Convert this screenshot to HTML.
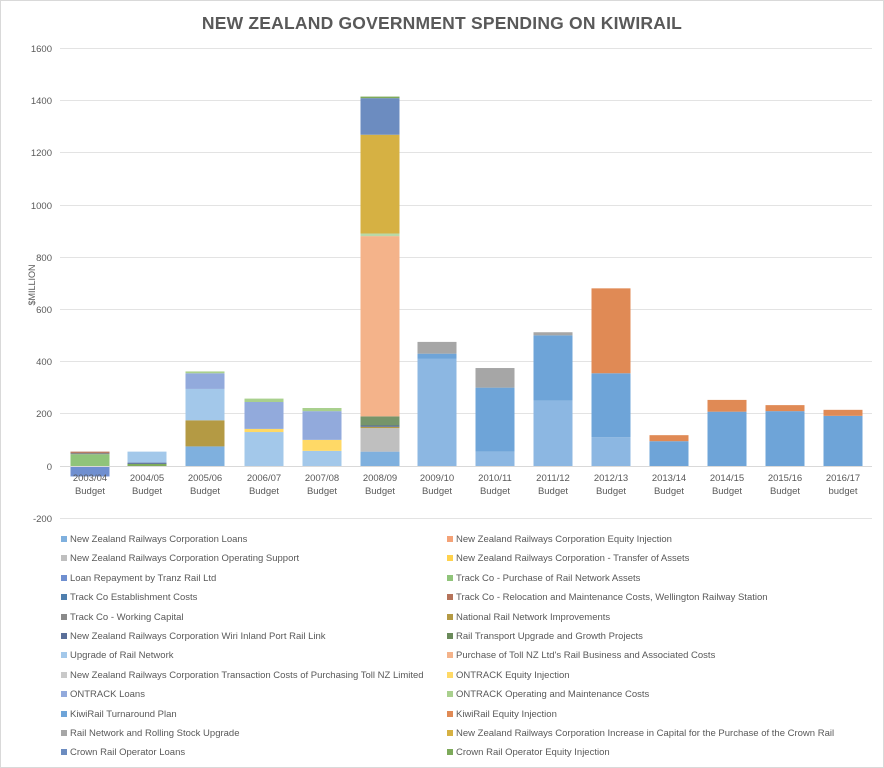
<!DOCTYPE html>
<html><head><meta charset="utf-8"><style>
body{margin:0;background:#fff;}
svg{display:block;font-family:"Liberation Sans",sans-serif;}
</style></head><body>
<svg width="884" height="768" viewBox="0 0 884 768">
<rect x="0.5" y="0.5" width="883" height="767" fill="#fff" stroke="#d9d9d9"/>
<text x="442" y="29" text-anchor="middle" font-size="17.5" font-weight="bold" fill="#595959" letter-spacing="0.2">NEW ZEALAND GOVERNMENT SPENDING ON KIWIRAIL</text>
<g stroke="#e3e3e3" stroke-width="1">
<line x1="60" x2="872" y1="48.5" y2="48.5"/><line x1="60" x2="872" y1="100.5" y2="100.5"/>
<line x1="60" x2="872" y1="152.5" y2="152.5"/><line x1="60" x2="872" y1="205.5" y2="205.5"/>
<line x1="60" x2="872" y1="257.5" y2="257.5"/><line x1="60" x2="872" y1="309.5" y2="309.5"/>
<line x1="60" x2="872" y1="361.5" y2="361.5"/><line x1="60" x2="872" y1="413.5" y2="413.5"/>
<line x1="60" x2="872" y1="518.5" y2="518.5"/>
</g>
<g font-size="9.5" fill="#595959" text-anchor="end">
<text x="52" y="52">1600</text><text x="52" y="104">1400</text><text x="52" y="156">1200</text>
<text x="52" y="209">1000</text><text x="52" y="261">800</text><text x="52" y="313">600</text>
<text x="52" y="365">400</text><text x="52" y="417">200</text><text x="52" y="470">0</text>
<text x="52" y="522">-200</text>
</g>
<text transform="translate(35,285) rotate(-90)" font-size="9" fill="#595959" text-anchor="middle">$MILLION</text>
<g transform="translate(0,466) scale(1,-0.26125)">
<rect x="70.5" y="-40" width="39" height="40" fill="#6f8fd0"/>
<rect x="70.5" y="0" width="39" height="45" fill="#90c47a"/>
<rect x="70.5" y="45" width="39" height="5" fill="#8a8a8a"/>
<rect x="70.5" y="50" width="39" height="5" fill="#b5735a"/>
<rect x="127.5" y="0" width="39" height="8" fill="#7daa5a"/>
<rect x="127.5" y="8" width="39" height="5" fill="#5a6f99"/>
<rect x="127.5" y="13" width="39" height="42" fill="#a3c8ea"/>
<rect x="185.5" y="0" width="39" height="75" fill="#7fb0de"/>
<rect x="185.5" y="75" width="39" height="100" fill="#b49a44"/>
<rect x="185.5" y="175" width="39" height="120" fill="#a3c8ea"/>
<rect x="185.5" y="295" width="39" height="60" fill="#92aadc"/>
<rect x="185.5" y="355" width="39" height="7" fill="#a9d08e"/>
<rect x="244.5" y="0" width="39" height="130" fill="#a3c8ea"/>
<rect x="244.5" y="130" width="39" height="12" fill="#ffd966"/>
<rect x="244.5" y="142" width="39" height="103" fill="#92aadc"/>
<rect x="244.5" y="245" width="39" height="13" fill="#a9d08e"/>
<rect x="302.5" y="0" width="39" height="58" fill="#a3c8ea"/>
<rect x="302.5" y="58" width="39" height="42" fill="#ffd966"/>
<rect x="302.5" y="100" width="39" height="110" fill="#92aadc"/>
<rect x="302.5" y="210" width="39" height="12" fill="#a9d08e"/>
<rect x="360.5" y="0" width="39" height="55" fill="#7fb0de"/>
<rect x="360.5" y="55" width="39" height="90" fill="#bfbfbf"/>
<rect x="360.5" y="145" width="39" height="5" fill="#b49a44"/>
<rect x="360.5" y="150" width="39" height="5" fill="#5a6f99"/>
<rect x="360.5" y="155" width="39" height="35" fill="#76956a"/>
<rect x="360.5" y="190" width="39" height="690" fill="#f4b38a"/>
<rect x="360.5" y="880" width="39" height="10" fill="#b9d9a8"/>
<rect x="360.5" y="890" width="39" height="378" fill="#d6b143"/>
<rect x="360.5" y="1268" width="39" height="140" fill="#6c8cc0"/>
<rect x="360.5" y="1408" width="39" height="6" fill="#7daa5a"/>
<rect x="417.5" y="0" width="39" height="410" fill="#8cb7e2"/>
<rect x="417.5" y="410" width="39" height="20" fill="#6ea4d8"/>
<rect x="417.5" y="430" width="39" height="45" fill="#a6a6a6"/>
<rect x="475.5" y="0" width="39" height="55" fill="#8cb7e2"/>
<rect x="475.5" y="55" width="39" height="245" fill="#6ea4d8"/>
<rect x="475.5" y="300" width="39" height="75" fill="#a6a6a6"/>
<rect x="533.5" y="0" width="39" height="250" fill="#8cb7e2"/>
<rect x="533.5" y="250" width="39" height="250" fill="#6ea4d8"/>
<rect x="533.5" y="500" width="39" height="12" fill="#a6a6a6"/>
<rect x="591.5" y="0" width="39" height="110" fill="#8cb7e2"/>
<rect x="591.5" y="110" width="39" height="245" fill="#6ea4d8"/>
<rect x="591.5" y="355" width="39" height="325" fill="#e08a55"/>
<rect x="649.5" y="0" width="39" height="95" fill="#6ea4d8"/>
<rect x="649.5" y="95" width="39" height="23" fill="#e08a55"/>
<rect x="707.5" y="0" width="39" height="208" fill="#6ea4d8"/>
<rect x="707.5" y="208" width="39" height="45" fill="#e08a55"/>
<rect x="765.5" y="0" width="39" height="210" fill="#6ea4d8"/>
<rect x="765.5" y="210" width="39" height="23" fill="#e08a55"/>
<rect x="823.5" y="0" width="39" height="192" fill="#6ea4d8"/>
<rect x="823.5" y="192" width="39" height="23" fill="#e08a55"/>
</g>
<line x1="60" x2="872" y1="466.5" y2="466.5" stroke="#d9d9d9"/>
<g font-size="9.5" fill="#595959" text-anchor="middle">
<text x="90" y="481">2003/04</text><text x="90" y="494">Budget</text>
<text x="147" y="481">2004/05</text><text x="147" y="494">Budget</text>
<text x="205" y="481">2005/06</text><text x="205" y="494">Budget</text>
<text x="264" y="481">2006/07</text><text x="264" y="494">Budget</text>
<text x="322" y="481">2007/08</text><text x="322" y="494">Budget</text>
<text x="380" y="481">2008/09</text><text x="380" y="494">Budget</text>
<text x="437" y="481">2009/10</text><text x="437" y="494">Budget</text>
<text x="495" y="481">2010/11</text><text x="495" y="494">Budget</text>
<text x="553" y="481">2011/12</text><text x="553" y="494">Budget</text>
<text x="611" y="481">2012/13</text><text x="611" y="494">Budget</text>
<text x="669" y="481">2013/14</text><text x="669" y="494">Budget</text>
<text x="727" y="481">2014/15</text><text x="727" y="494">Budget</text>
<text x="785" y="481">2015/16</text><text x="785" y="494">Budget</text>
<text x="843" y="481">2016/17</text><text x="843" y="494">budget</text>
</g>
<g font-size="9.5" fill="#595959">
<rect x="61" y="536" width="6" height="6" fill="#7fb0de"/><text x="70" y="542">New Zealand Railways Corporation Loans</text>
<rect x="447" y="536" width="6" height="6" fill="#f4a277"/><text x="456" y="542">New Zealand Railways Corporation Equity Injection</text>
<rect x="61" y="555" width="6" height="6" fill="#bfbfbf"/><text x="70" y="561">New Zealand Railways Corporation Operating Support</text>
<rect x="447" y="555" width="6" height="6" fill="#ffd24d"/><text x="456" y="561">New Zealand Railways Corporation - Transfer of Assets</text>
<rect x="61" y="575" width="6" height="6" fill="#6f8fd0"/><text x="70" y="581">Loan Repayment by Tranz Rail Ltd</text>
<rect x="447" y="575" width="6" height="6" fill="#90c47a"/><text x="456" y="581">Track Co - Purchase of Rail Network Assets</text>
<rect x="61" y="594" width="6" height="6" fill="#4f7fae"/><text x="70" y="600">Track Co Establishment Costs</text>
<rect x="447" y="594" width="6" height="6" fill="#b5735a"/><text x="456" y="600">Track Co - Relocation and Maintenance Costs, Wellington Railway Station</text>
<rect x="61" y="614" width="6" height="6" fill="#8a8a8a"/><text x="70" y="620">Track Co - Working Capital</text>
<rect x="447" y="614" width="6" height="6" fill="#b49a44"/><text x="456" y="620">National Rail Network Improvements</text>
<rect x="61" y="633" width="6" height="6" fill="#5a6f99"/><text x="70" y="639">New Zealand Railways Corporation Wiri Inland Port Rail Link</text>
<rect x="447" y="633" width="6" height="6" fill="#6a8a5a"/><text x="456" y="639">Rail Transport Upgrade and Growth Projects</text>
<rect x="61" y="652" width="6" height="6" fill="#a3c8ea"/><text x="70" y="658">Upgrade of Rail Network</text>
<rect x="447" y="652" width="6" height="6" fill="#f4b38a"/><text x="456" y="658">Purchase of Toll NZ Ltd's Rail Business and Associated Costs</text>
<rect x="61" y="672" width="6" height="6" fill="#c9c9c9"/><text x="70" y="678">New Zealand Railways Corporation Transaction Costs of Purchasing Toll NZ Limited</text>
<rect x="447" y="672" width="6" height="6" fill="#ffd966"/><text x="456" y="678">ONTRACK Equity Injection</text>
<rect x="61" y="691" width="6" height="6" fill="#92aadc"/><text x="70" y="697">ONTRACK Loans</text>
<rect x="447" y="691" width="6" height="6" fill="#a9d08e"/><text x="456" y="697">ONTRACK Operating and Maintenance Costs</text>
<rect x="61" y="711" width="6" height="6" fill="#6ea4d8"/><text x="70" y="717">KiwiRail Turnaround Plan</text>
<rect x="447" y="711" width="6" height="6" fill="#e08a55"/><text x="456" y="717">KiwiRail Equity Injection</text>
<rect x="61" y="730" width="6" height="6" fill="#a6a6a6"/><text x="70" y="736">Rail Network and Rolling Stock Upgrade</text>
<rect x="447" y="730" width="6" height="6" fill="#d6b143"/><text x="456" y="736">New Zealand Railways Corporation Increase in Capital for the Purchase of the Crown Rail</text>
<rect x="61" y="749" width="6" height="6" fill="#6c8cc0"/><text x="70" y="755">Crown Rail Operator Loans</text>
<rect x="447" y="749" width="6" height="6" fill="#7daa5a"/><text x="456" y="755">Crown Rail Operator Equity Injection</text>
</g>
</svg>
</body></html>
